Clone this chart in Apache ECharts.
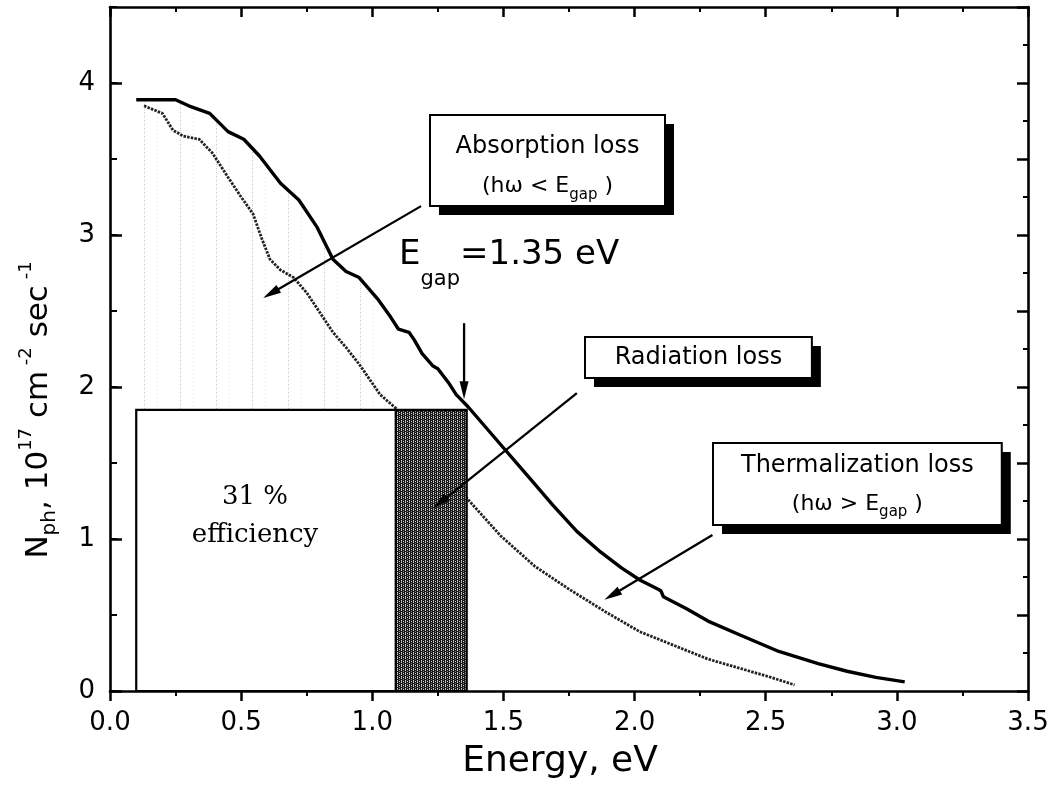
<!DOCTYPE html>
<html><head><meta charset="utf-8">
<script src="https://cdn.jsdelivr.net/npm/echarts@6/dist/echarts.min.js"></script>
<style>html,body{margin:0;padding:0;background:#fff}#c{width:1060px;height:789px}</style>
</head><body><div id="c"></div>
<script>
// ---- data ----
const upperE = [0.10,0.17,0.25,0.30,0.38,0.45,0.51,0.57,0.65,0.72,0.79,0.85,0.90,0.95,1.02,1.07,1.10,1.14,1.16,1.19,1.23,1.25,1.29,1.32,1.365,1.49,1.60,1.69,1.78,1.87,1.95,2.02,2.09,2.10,2.11,2.20,2.28,2.40,2.55,2.70,2.81,2.92,3.03];
const upperN = [3.89,3.89,3.89,3.85,3.80,3.68,3.63,3.52,3.34,3.23,3.05,2.84,2.76,2.72,2.58,2.46,2.38,2.36,2.31,2.22,2.14,2.12,2.03,1.95,1.87,1.62,1.40,1.22,1.05,0.915,0.81,0.73,0.67,0.66,0.62,0.54,0.46,0.37,0.26,0.18,0.13,0.09,0.06];
const lowerE = [0.13,0.20,0.24,0.28,0.34,0.39,0.45,0.50,0.545,0.58,0.61,0.65,0.70,0.75,0.80,0.85,0.90,0.95,0.99,1.03,1.09,1.37,1.49,1.62,1.75,1.89,2.02,2.15,2.28,2.42,2.52,2.61];
const lowerN = [3.85,3.80,3.69,3.65,3.63,3.54,3.38,3.25,3.14,2.97,2.84,2.77,2.72,2.62,2.49,2.36,2.26,2.15,2.05,1.95,1.86,1.25,1.02,0.82,0.67,0.52,0.39,0.30,0.21,0.14,0.09,0.04];

// rectangles: efficiency block and radiation-loss block
const rectE0 = [0.10, 1.09];
const rectE1 = [1.09, 1.36];
const rectTopN = [1.85, 1.85];
const shadeLimitE = 1.09;   // light shading under the upper curve up to here
const shadeBottomN = 1.85;

// arrows (from -> to) in data units
const arrowFromE = [1.186, 1.35, 1.78, 2.297];
const arrowFromN = [3.19, 2.42, 1.96, 1.026];
const arrowToE = [0.584, 1.35, 1.231, 1.885];
const arrowToN = [2.586, 1.92, 1.20, 0.60];

// annotation boxes
const boxLeftE = [1.22, 1.811, 2.299];
const boxRightE = [2.116, 2.676, 3.40];
const boxTopN = [3.79, 2.329, 1.632];
const boxBottomN = [3.19, 2.059, 1.092];
const boxLine1 = ['Absorption loss', 'Radiation loss', 'Thermalization loss'];
const boxLine2 = ['<', '', '>'];
const boxLine1N = [3.58, 2.194, 1.48];
const boxLine2N = [3.32, 0, 1.23];

// free texts
const egapE = 1.102, egapN = 2.868;
const effText = ['31 %', 'efficiency'];
const effE = [0.553, 0.553];
const effN = [1.276, 1.026];

const xTickLabelDigits = 1;
const yAxisMax = 4.5;
const xAxisMax = 3.5;

// ---- patterns ----
function makeCanvas(w, h, draw) {
  const c = document.createElement('canvas'); c.width = w; c.height = h;
  draw(c.getContext('2d')); return c;
}
const darkCanvas = makeCanvas(4, 4, ctx => {
  ctx.fillStyle = '#181818'; ctx.fillRect(0, 0, 4, 4);
  ctx.fillStyle = '#d6d6d6';
  ctx.fillRect(1, 0, 1, 1); ctx.fillRect(1, 2, 1, 1);
  ctx.fillRect(3, 1, 1, 1);
  ctx.fillStyle = '#8a8a8a';
  ctx.fillRect(1, 1, 1, 1); ctx.fillRect(3, 3, 1, 1);
});
const lightCanvas = makeCanvas(36, 4, ctx => {
  ctx.fillStyle = '#c4c4c4'; ctx.fillRect(0, 0, 1, 1);
  ctx.fillStyle = '#dedede'; ctx.fillRect(0, 2, 1, 1); ctx.fillRect(13, 1, 1, 1);
});
const darkPattern = { image: darkCanvas, repeat: 'repeat' };
const lightPattern = { image: lightCanvas, repeat: 'repeat' };

const FONT = 'DejaVu Sans';
const chart = echarts.init(document.getElementById('c'), null, { renderer: 'canvas' });

function txt(x, y, text, font, align, extra) {
  return Object.assign({
    type: 'text', x: x, y: y,
    style: Object.assign({ text: text, font: font, fill: '#000', align: align, textAlign: align,
      verticalAlign: 'middle', textVerticalAlign: 'middle' }, extra || {})
  });
}

const axisLineStyle = { color: '#000', width: 2.6 };

const option = {
  animation: false,
  backgroundColor: '#fff',
  grid: { left: 110, top: 7, width: 918, height: 684, containLabel: false },
  xAxis: [
    {
      type: 'value', position: 'bottom', min: 0, max: xAxisMax, interval: 0.5,
      axisLine: { show: true, onZero: false, lineStyle: axisLineStyle },
      axisTick: { show: true, inside: false, length: 10, lineStyle: { color: '#000', width: 2.5 } },
      minorTick: { show: true, splitNumber: 2, length: 5, lineStyle: { color: '#000', width: 2 } },
      splitLine: { show: false },
      axisLabel: { margin: 19, fontFamily: FONT, fontSize: 26, color: '#000', formatter: v => v.toFixed(xTickLabelDigits) },
      name: 'Energy, eV', nameLocation: 'middle', nameGap: 53,
      nameTextStyle: { fontFamily: FONT, fontSize: 36, color: '#000', padding: [0, 18, 0, 0] }
    },
    {
      type: 'value', position: 'top', min: 0, max: xAxisMax, interval: 0.5,
      axisLine: { show: true, onZero: false, lineStyle: axisLineStyle },
      axisTick: { show: true, inside: true, length: 10, lineStyle: { color: '#000', width: 2.5 } },
      minorTick: { show: true, splitNumber: 2, length: 5, lineStyle: { color: '#000', width: 2 } },
      splitLine: { show: false }, axisLabel: { show: false }
    }
  ],
  yAxis: [
    {
      type: 'value', position: 'left', min: 0, max: yAxisMax, interval: 1,
      axisLine: { show: true, onZero: false, lineStyle: axisLineStyle },
      axisTick: { show: true, inside: true, length: 12, lineStyle: { color: '#000', width: 2.5 } },
      splitLine: { show: false },
      axisLabel: { margin: 15, fontFamily: FONT, fontSize: 26, color: '#000', showMaxLabel: false,
        formatter: v => (Math.abs(v - Math.round(v)) < 1e-9 ? String(Math.round(v)) : '') },
      name: '{m|N}{s|ph}{m|, 10}{p|17}{m| cm}{p| -2}{m| sec}{p| -1}',
      nameLocation: 'middle', nameRotate: 90, nameGap: 50,
      nameTextStyle: {
        fontFamily: FONT, fontSize: 31, color: '#000', padding: [0, 122, 0, 0],
        rich: {
          m: { fontFamily: FONT, fontSize: 31, lineHeight: 43, verticalAlign: 'middle', color: '#000' },
          s: { fontFamily: FONT, fontSize: 20, lineHeight: 20, verticalAlign: 'bottom', color: '#000' },
          p: { fontFamily: FONT, fontSize: 18, lineHeight: 18, verticalAlign: 'top', color: '#000' }
        }
      }
    },
    {
      type: 'value', position: 'left', min: 0, max: yAxisMax, interval: 0.5,
      axisLine: { show: false, onZero: false },
      axisTick: { show: true, inside: true, length: 7, lineStyle: { color: '#000', width: 2 } },
      splitLine: { show: false }, axisLabel: { show: false }
    },
    {
      type: 'value', position: 'right', min: 0, max: yAxisMax, interval: 0.5,
      axisLine: { show: true, onZero: false, lineStyle: axisLineStyle },
      axisTick: { show: true, inside: true, length: 11, lineStyle: { color: '#000', width: 2.5 } },
      minorTick: { show: true, splitNumber: 2, length: 5, lineStyle: { color: '#000', width: 2 } },
      splitLine: { show: false }, axisLabel: { show: false }
    }
  ],
  series: [
    {
      type: 'custom', name: 'shade', silent: true, z: 1, xAxisIndex: 0, yAxisIndex: 0,
      data: [[0, 0]],
      renderItem: function (params, api) {
        const pts = [api.coord([upperE[0], shadeBottomN])];
        for (let i = 0; i < upperE.length; i++) {
          if (upperE[i] <= shadeLimitE) pts.push(api.coord([upperE[i], upperN[i]]));
        }
        let j = upperE.findIndex(e => e > shadeLimitE);
        const e0 = upperE[j - 1], e1 = upperE[j];
        const nAt = upperN[j - 1] + (upperN[j] - upperN[j - 1]) * (shadeLimitE - e0) / (e1 - e0);
        pts.push(api.coord([shadeLimitE, nAt]));
        pts.push(api.coord([shadeLimitE, shadeBottomN]));
        return { type: 'polygon', shape: { points: pts }, style: { fill: lightPattern } };
      }
    },
    {
      type: 'line', name: 'lower', z: 2, xAxisIndex: 0, yAxisIndex: 0,
      data: lowerE.map((e, i) => [e, lowerN[i]]),
      symbol: 'none', showSymbol: false, silent: true,
      lineStyle: { color: '#222', width: 2.8, type: [2.5, 1.2] }
    },
    {
      type: 'custom', name: 'blocks', z: 3, silent: true, xAxisIndex: 0, yAxisIndex: 0,
      encode: { x: [0, 1], y: 2 },
      data: rectE0.map((e, i) => [e, rectE1[i], rectTopN[i]]),
      renderItem: function (params, api) {
        const p0 = api.coord([api.value(0), api.value(2)]);
        const p1 = api.coord([api.value(1), 0]);
        return {
          type: 'rect',
          shape: { x: p0[0], y: p0[1], width: p1[0] - p0[0], height: p1[1] - p0[1] },
          style: { fill: params.dataIndex === 0 ? '#fff' : darkPattern, stroke: '#000', lineWidth: 2.2 }
        };
      }
    },
    {
      type: 'line', name: 'upper', z: 4, xAxisIndex: 0, yAxisIndex: 0,
      data: upperE.map((e, i) => [e, upperN[i]]),
      symbol: 'none', showSymbol: false, silent: true,
      lineStyle: { color: '#000', width: 3.4 }
    },
    {
      type: 'custom', name: 'arrows', z: 5, silent: true, xAxisIndex: 0, yAxisIndex: 0,
      encode: { x: [0, 2], y: [1, 3] },
      data: arrowFromE.map((e, i) => [e, arrowFromN[i], arrowToE[i], arrowToN[i]]),
      renderItem: function (params, api) {
        const a = api.coord([api.value(0), api.value(1)]);
        const b = api.coord([api.value(2), api.value(3)]);
        const dx = b[0] - a[0], dy = b[1] - a[1];
        const L = Math.hypot(dx, dy), ux = dx / L, uy = dy / L;
        const hl = 18, hw = 4.5;
        const base = [b[0] - ux * hl, b[1] - uy * hl];
        return {
          type: 'group', children: [
            { type: 'line', shape: { x1: a[0], y1: a[1], x2: base[0] + ux * 2, y2: base[1] + uy * 2 },
              style: { stroke: '#000', lineWidth: 2.3 } },
            { type: 'polygon', shape: { points: [b, [base[0] - uy * hw, base[1] + ux * hw], [base[0] + uy * hw, base[1] - ux * hw]] },
              style: { fill: '#000' } }
          ]
        };
      }
    },
    {
      type: 'custom', name: 'boxes', z: 6, silent: true, xAxisIndex: 0, yAxisIndex: 0,
      encode: { x: [0, 1], y: [2, 3] },
      data: boxLeftE.map((e, i) => [e, boxRightE[i], boxTopN[i], boxBottomN[i]]),
      renderItem: function (params, api) {
        const i = params.dataIndex;
        const p0 = api.coord([api.value(0), api.value(2)]);
        const p1 = api.coord([api.value(1), api.value(3)]);
        const w = p1[0] - p0[0], h = p1[1] - p0[1];
        const cx = (p0[0] + p1[0]) / 2;
        const sh = 9;
        const children = [
          { type: 'rect', shape: { x: p0[0] + sh, y: p0[1] + sh, width: w, height: h }, style: { fill: '#000' } },
          { type: 'rect', shape: { x: p0[0], y: p0[1], width: w, height: h }, style: { fill: '#fff', stroke: '#000', lineWidth: 2 } },
          txt(cx, api.coord([0, boxLine1N[i]])[1], boxLine1[i], '24px "' + FONT + '"', 'center')
        ];
        if (boxLine2[i]) {
          children.push({
            type: 'text', x: cx, y: api.coord([0, boxLine2N[i]])[1],
            style: {
              text: '{m|(hω ' + boxLine2[i] + ' E}{s|gap}{m| )}',
              align: 'center', textAlign: 'center', verticalAlign: 'middle', textVerticalAlign: 'middle',
              fill: '#000', font: '22px "' + FONT + '"',
              rich: {
                m: { fontFamily: FONT, fontSize: 22, lineHeight: 32, verticalAlign: 'middle', fill: '#000' },
                s: { fontFamily: FONT, fontSize: 15, lineHeight: 15, verticalAlign: 'bottom', fill: '#000' }
              }
            }
          });
        }
        return { type: 'group', children: children };
      }
    },
    {
      type: 'custom', name: 'texts', z: 7, silent: true, xAxisIndex: 0, yAxisIndex: 0,
      data: [[egapE, egapN]],
      renderItem: function (params, api) {
        const p = api.coord([egapE, egapN]);
        const children = [{
          type: 'text', x: p[0], y: p[1],
          style: {
            text: '{b|E}{s|gap}{b|=1.35 eV}',
            align: 'left', textAlign: 'left', verticalAlign: 'middle', textVerticalAlign: 'middle',
            fill: '#000', font: '34px "' + FONT + '"',
            rich: {
              b: { fontFamily: FONT, fontSize: 34, lineHeight: 70, verticalAlign: 'middle', fill: '#000' },
              s: { fontFamily: FONT, fontSize: 21, lineHeight: 21, verticalAlign: 'bottom', fill: '#000' }
            }
          }
        }];
        for (let k = 0; k < effText.length; k++) {
          const q = api.coord([effE[k], effN[k]]);
          children.push(txt(q[0], q[1], effText[k], '26px "DejaVu Serif"', 'center'));
        }
        return { type: 'group', children: children };
      }
    }
  ]
};
chart.setOption(option);
</script>
</body></html>
